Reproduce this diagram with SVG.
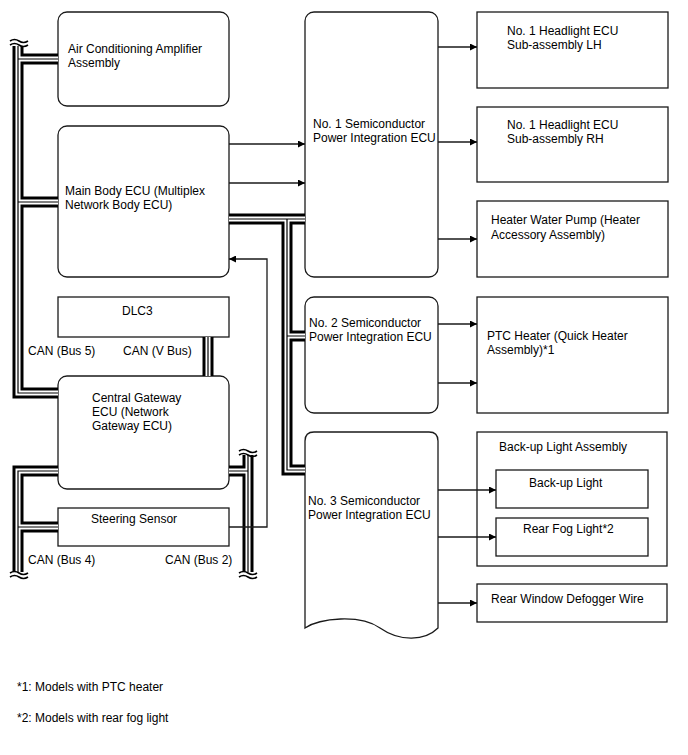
<svg xmlns="http://www.w3.org/2000/svg" width="688" height="755" viewBox="0 0 688 755">
<defs>
<style>
.box{fill:#fff;stroke:#1a1a1a;stroke-width:1.3}
.t{font-family:"Liberation Sans",Arial,sans-serif;font-size:12px;fill:#000}
.ln{fill:none;stroke:#1a1a1a;stroke-width:1.3}
.b1{fill:none;stroke:#000;stroke-width:11;stroke-linejoin:miter}
.b2{fill:none;stroke:#fff;stroke-width:5;stroke-linejoin:miter}
.b3{fill:none;stroke:#000;stroke-width:1.2;stroke-linejoin:miter}
.brk{fill:none;stroke:#000;stroke-width:1.6}
</style>
<marker id="ah" viewBox="0 0 10 10" refX="10" refY="5" markerWidth="9" markerHeight="7" markerUnits="userSpaceOnUse" orient="auto"><path d="M0,0 L10,5 L0,10 z" fill="#000"/></marker>
<path id="bus5" d="M18,46 L18,393 L58,393 M18,59 L58,59 M18,202 L58,202"/>
<path id="busv" d="M208,337 L208,376"/>
<path id="bus4" d="M58,471 L18,471 L18,572 M18,527 L58,527"/>
<path id="bus2" d="M248,455 L248,572 M229,471 L248,471"/>
<path id="busp" d="M229,219 L305,219 M287,219 L287,470 L305,470 M287,336 L305,336"/>
</defs>
<rect width="688" height="755" fill="#fff"/>

<g id="ac-amp"><rect class="box" x="58" y="12" width="171" height="94" rx="9"/>
<text class="t" x="68" y="53">Air Conditioning Amplifier</text><text class="t" x="68" y="67">Assembly</text></g>

<g id="main-body"><rect class="box" x="58" y="126" width="171" height="151" rx="9"/>
<text class="t" x="65" y="195">Main Body ECU (Multiplex</text><text class="t" x="65" y="209">Network Body ECU)</text></g>

<g id="dlc3"><rect class="box" x="58" y="297" width="171" height="40"/>
<text class="t" x="122" y="315">DLC3</text></g>

<g id="gateway"><rect class="box" x="58" y="376" width="171" height="113" rx="9"/>
<text class="t" x="92" y="402">Central Gateway</text><text class="t" x="92" y="416">ECU (Network</text><text class="t" x="92" y="430">Gateway ECU)</text></g>

<g id="steering"><rect class="box" x="58" y="508" width="171" height="38"/>
<text class="t" x="91" y="523">Steering Sensor</text></g>

<g id="semi1"><rect class="box" x="305" y="12" width="133" height="265" rx="9"/>
<text class="t" x="313" y="128">No. 1 Semiconductor</text><text class="t" x="313" y="142">Power Integration ECU</text></g>

<g id="semi2"><rect class="box" x="305" y="297" width="133" height="116" rx="9"/>
<text class="t" x="309" y="327">No. 2 Semiconductor</text><text class="t" x="309" y="341">Power Integration ECU</text></g>

<g id="semi3"><path class="box" d="M305,628 L305,441 Q305,432 314,432 L429,432 Q438,432 438,441 L438,628 C425,641 400,642 380,628 S320,618 305,628 Z"/>
<text class="t" x="308" y="505">No. 3 Semiconductor</text><text class="t" x="308" y="519">Power Integration ECU</text></g>

<g id="hl-lh"><rect class="box" x="477" y="12" width="191" height="76"/>
<text class="t" x="507" y="35">No. 1 Headlight ECU</text><text class="t" x="507" y="49">Sub-assembly LH</text></g>

<g id="hl-rh"><rect class="box" x="477" y="107" width="191" height="75"/>
<text class="t" x="507" y="129">No. 1 Headlight ECU</text><text class="t" x="507" y="143">Sub-assembly RH</text></g>

<g id="water-pump"><rect class="box" x="477" y="201" width="191" height="76"/>
<text class="t" x="491" y="224">Heater Water Pump (Heater</text><text class="t" x="491" y="239">Accessory Assembly)</text></g>

<g id="ptc"><rect class="box" x="477" y="297" width="191" height="116"/>
<text class="t" x="487" y="340">PTC Heater (Quick Heater</text><text class="t" x="487" y="354">Assembly)*1</text></g>

<g id="backup-assy"><rect class="box" x="477" y="432" width="190" height="134"/>
<text class="t" x="499" y="451">Back-up Light Assembly</text></g>

<g id="backup-light"><rect class="box" x="496" y="470" width="152" height="38"/>
<text class="t" x="529" y="487">Back-up Light</text></g>

<g id="fog-light"><rect class="box" x="496" y="518" width="152" height="38"/>
<text class="t" x="523" y="533">Rear Fog Light*2</text></g>

<g id="defogger"><rect class="box" x="477" y="584" width="190" height="38"/>
<text class="t" x="491" y="603">Rear Window Defogger Wire</text></g>

<g id="labels">
<text class="t" x="28" y="355">CAN (Bus 5)</text>
<text class="t" x="123" y="355">CAN (V Bus)</text>
<text class="t" x="28" y="564">CAN (Bus 4)</text>
<text class="t" x="165" y="564">CAN (Bus 2)</text>
<text class="t" x="17" y="691">*1: Models with PTC heater</text>
<text class="t" x="17" y="722">*2: Models with rear fog light</text>
</g>

<g id="connectors">
<g class="b1"><use href="#bus5"/><use href="#busv"/><use href="#bus4"/><use href="#bus2"/><use href="#busp"/></g>
<g class="b2"><use href="#bus5"/><use href="#busv"/><use href="#bus4"/><use href="#bus2"/><use href="#busp"/></g>
<g class="b3"><use href="#bus5"/><use href="#busv"/><use href="#bus4"/><use href="#bus2"/><use href="#busp"/></g>
<g class="brk">
<path d="M10,41 q4.5,-3 9,0 t9,0 M10,45 q4.5,-3 9,0 t9,0"/>
<path d="M10,573 q4.5,-3 9,0 t9,0 M10,577 q4.5,-3 9,0 t9,0"/>
<path d="M239,451 q4.5,-3 9,0 t9,0 M239,455 q4.5,-3 9,0 t9,0"/>
<path d="M239,573 q4.5,-3 9,0 t9,0 M239,577 q4.5,-3 9,0 t9,0"/>
</g>
<g class="ln" marker-end="url(#ah)">
<path d="M229,144 L305,144"/>
<path d="M229,183 L305,183"/>
<path d="M229,527 L267,527 L267,259 L229,259"/>
<path d="M438,47 L477,47"/>
<path d="M438,142 L477,142"/>
<path d="M438,239 L477,239"/>
<path d="M438,324 L477,324"/>
<path d="M438,383 L477,383"/>
<path d="M438,490 L496,490"/>
<path d="M438,537 L496,537"/>
<path d="M438,603 L477,603"/>
</g>
</g>
</svg>
